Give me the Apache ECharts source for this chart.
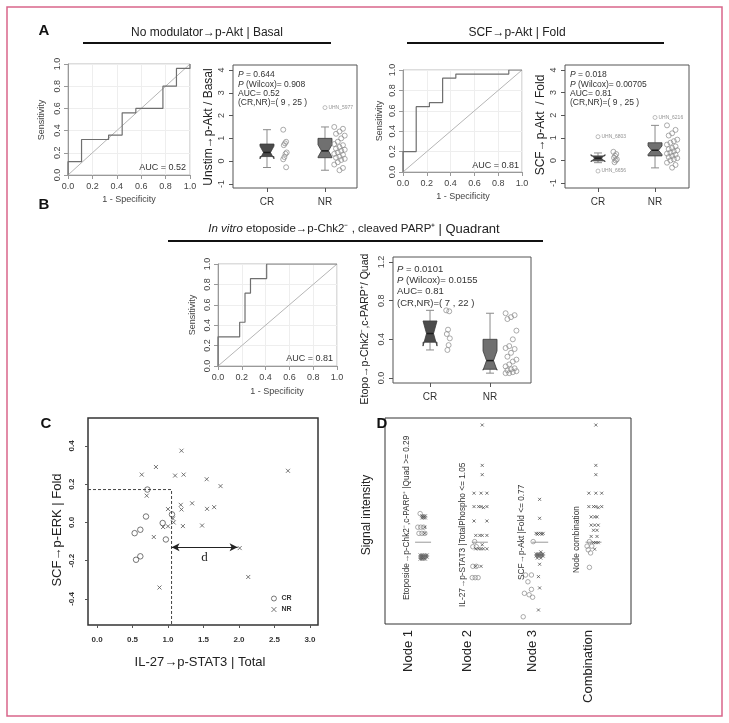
<!DOCTYPE html>
<html><head><meta charset="utf-8">
<script src="https://cdn.jsdelivr.net/npm/echarts@6/dist/echarts.min.js"></script>
<style>html,body{margin:0;padding:0;background:#fff}#c{width:729px;height:723px}</style>
</head><body><div id="c"></div>
<script>
const FONT = "'Liberation Sans', Arial, Helvetica, sans-serif";

// ---------- ROC curves: corner points (1 - specificity, sensitivity) ----------
const rocA1Fpr = [0, 0, 0.111, 0.333, 0.444, 0.556, 0.778, 0.889, 1];
const rocA1Tpr = [0, 0.12, 0.32, 0.36, 0.56, 0.60, 0.80, 0.96, 1];
const rocA2Fpr = [0, 0, 0.111, 0.222, 0.333, 0.444, 0.889, 1];
const rocA2Tpr = [0, 0.20, 0.64, 0.68, 0.92, 0.96, 1, 1];
const rocBFpr  = [0, 0, 0.182, 0.227, 0.273, 0.409, 1];
const rocBTpr  = [0, 0.286, 0.429, 0.714, 0.857, 1, 1];
const rocChance = [[0, 0], [1, 1]];
const aucA1 = '0.52', aucA2 = '0.81', aucB = '0.81';
const rocTicks = ['0.0', '0.2', '0.4', '0.6', '0.8', '1.0'];

// ---------- Box plots: [lower whisker, Q1, median, Q3, upper whisker] and notch [low, high] ----------
const boxA1CR = [-0.28, 0.20, 0.38, 0.75, 1.38], notchA1CR = [0.10, 0.66];
const boxA1NR = [-0.40, 0.15, 0.45, 1.00, 1.50], notchA1NR = [0.18, 0.72];
const boxA2CR = [-0.10, -0.02, 0.10, 0.20, 0.33], notchA2CR = [-0.06, 0.26];
const boxA2NR = [-0.33, 0.20, 0.45, 0.78, 1.55], notchA2NR = [0.26, 0.64];
const boxBCR  = [0.29, 0.37, 0.46, 0.59, 0.70], notchBCR = [0.33, 0.59];
const boxBNR  = [0.05, 0.09, 0.18, 0.40, 0.67], notchBNR = [0.08, 0.28];

// individual patient values next to the boxes
const ptsA1CR = [1.38, 0.85, 0.78, 0.70, 0.38, 0.32, 0.18, 0.08, -0.27];
const ptsA1NR = [1.50, 1.42, 1.30, 1.20, 1.12, 1.00, 0.85, 0.75, 0.70, 0.62, 0.55, 0.50, 0.45, 0.38, 0.32, 0.28, 0.20, 0.15, 0.10, 0.05, -0.05, -0.15, -0.30, -0.40];
const outA1 = [[2, 2.35, 'UHN_5977']];
const ptsA2CR = [0.38, 0.28, 0.20, 0.12, 0.05, 0.00, -0.08];
const ptsA2NR = [1.55, 1.35, 1.20, 1.10, 0.92, 0.85, 0.78, 0.70, 0.62, 0.55, 0.50, 0.45, 0.40, 0.35, 0.30, 0.25, 0.20, 0.15, 0.10, 0.05, 0.00, -0.10, -0.20, -0.32];
const outA2 = [[1, 1.05, 'UHN_6803'], [1, -0.47, 'UHN_6656'], [2, 1.90, 'UHN_6216']];
const ptsBCR = [0.70, 0.69, 0.50, 0.455, 0.41, 0.34, 0.29];
const ptsBNR = [0.67, 0.65, 0.63, 0.61, 0.49, 0.40, 0.33, 0.31, 0.30, 0.26, 0.22, 0.19, 0.17, 0.14, 0.12, 0.10, 0.09, 0.08, 0.07, 0.06, 0.05, 0.05];
const boxTicksA = [-1, 0, 1, 2, 3, 4];
const boxTicksB = [0, 0.4, 0.8, 1.2];
const groups = ['CR', 'NR'];

const statsA1 = ['0.644', '0.908', '0.52', '( 9 , 25 )'];
const statsA2 = ['0.018', '0.00705', '0.81', '( 9 , 25 )'];
const statsB  = ['0.0101', '0.0155', '0.81', '( 7 , 22 )'];

// ---------- Panel C scatter: [IL-27 -> p-STAT3 total, SCF -> p-ERK fold] ----------
const cCR = [[0.71, 0.172], [0.69, 0.031], [0.53, -0.056], [0.61, -0.038], [0.55, -0.195], [0.61, -0.177], [0.925, -0.003], [0.97, -0.089], [1.056, 0.042]];
const cNR = [[0.70, 0.14], [0.93, -0.024], [1.07, 0.02], [1.08, 0.0], [1.00, -0.02], [1.00, 0.07], [0.80, -0.076], [0.88, -0.34], [0.63, 0.25], [0.83, 0.29], [1.19, 0.375], [1.10, 0.245], [1.22, 0.25], [1.18, 0.092], [1.19, 0.068], [1.21, -0.019], [1.34, 0.10], [1.545, 0.226], [1.55, 0.071], [1.65, 0.08], [1.74, 0.19], [1.48, -0.016], [2.01, -0.134], [2.13, -0.285], [2.69, 0.27]];
const cCutX = 1.05, cCutY = 0.172;
const cArrow = [1.05, 1.98, -0.13];
const cXTicks = [0, 0.5, 1, 1.5, 2, 2.5, 3];
const cYTicks = [-0.4, -0.2, 0, 0.2, 0.4];

// ---------- Panel D strips: [position, signal] ----------
const d1CR = [[0.60, 5.36], [0.56, 4.7], [0.61, 4.7], [0.66, 4.7], [0.58, 4.4], [0.63, 4.4], [0.68, 4.4]];
const d1NR = [[0.63, 5.25], [0.66, 5.25], [0.69, 5.25], [0.63, 5.15], [0.66, 5.15], [0.69, 5.15], [0.68, 4.7], [0.68, 4.4], [0.60, 3.35], [0.63, 3.35], [0.66, 3.35], [0.69, 3.35], [0.72, 3.35], [0.60, 3.25], [0.63, 3.25], [0.66, 3.25], [0.69, 3.25], [0.72, 3.25], [0.60, 3.15], [0.63, 3.15], [0.66, 3.15], [0.69, 3.15]];
const d2CR = [[1.53, 4.0], [1.50, 3.75], [1.56, 3.75], [1.50, 2.8], [1.56, 2.8], [1.49, 2.25], [1.54, 2.25], [1.59, 2.25]];
const d2NR = [[1.66, 9.66], [1.66, 7.7], [1.66, 7.25], [1.52, 6.35], [1.64, 6.35], [1.74, 6.35], [1.52, 5.7], [1.60, 5.7], [1.64, 5.7], [1.68, 5.65], [1.74, 5.7], [1.52, 5.0], [1.74, 5.0], [1.55, 4.3], [1.62, 4.3], [1.66, 4.3], [1.74, 4.3], [1.66, 3.85], [1.55, 3.65], [1.60, 3.65], [1.64, 3.65], [1.68, 3.65], [1.74, 3.65], [1.55, 2.8], [1.64, 2.8]];
const d3CR = [[2.53, 4.0], [2.40, 2.38], [2.50, 2.38], [2.44, 2.05], [2.50, 1.68], [2.38, 1.49], [2.46, 1.42], [2.52, 1.3], [2.36, 0.35]];
const d3NR = [[2.64, 6.05], [2.64, 5.13], [2.58, 4.4], [2.62, 4.4], [2.66, 4.4], [2.70, 4.4], [2.60, 4.35], [2.68, 4.35], [2.66, 3.5], [2.58, 3.4], [2.61, 3.4], [2.64, 3.4], [2.67, 3.4], [2.70, 3.4], [2.58, 3.3], [2.61, 3.3], [2.64, 3.3], [2.67, 3.3], [2.70, 3.3], [2.60, 3.2], [2.66, 3.2], [2.64, 2.9], [2.62, 2.3], [2.64, 1.75], [2.62, 0.68]];
const d4CR = [[3.49, 4.0], [3.45, 3.78], [3.53, 3.78], [3.47, 3.6], [3.51, 3.45], [3.49, 2.75]];
const d4NR = [[3.60, 9.66], [3.60, 7.7], [3.60, 7.25], [3.48, 6.35], [3.60, 6.35], [3.70, 6.35], [3.48, 5.7], [3.56, 5.7], [3.60, 5.7], [3.64, 5.65], [3.70, 5.7], [3.52, 5.2], [3.58, 5.2], [3.62, 5.2], [3.52, 4.8], [3.58, 4.8], [3.64, 4.8], [3.56, 4.55], [3.62, 4.55], [3.52, 4.25], [3.62, 4.25], [3.56, 3.95], [3.60, 3.95], [3.64, 3.95], [3.58, 3.63]];
const dCut = [[0.65, 3.97], [1.62, 3.97], [2.65, 3.97], [3.56, 3.97]];
const dNodes = ['Node 1', 'Node 2', 'Node 3', 'Combination'];
const dRules = ['Etoposide\u2192p-Chk2\u207B,c-PARP\u207A |Quad >= 0.29', 'IL-27\u2192p-STAT3 |TotalPhospho <= 1.05', 'SCF\u2192p-Akt |Fold <= 0.77', 'Node combination'];

// ================= layout =================
const grids = [
  {left: 68, top: 64, width: 122, height: 111, show: true, borderColor: '#bbb', borderWidth: 1},
  {left: 233, top: 65, width: 124, height: 123, show: true, borderColor: '#555', borderWidth: 1},
  {left: 403, top: 70, width: 119, height: 102, show: true, borderColor: '#bbb', borderWidth: 1},
  {left: 565, top: 65, width: 124, height: 123, show: true, borderColor: '#555', borderWidth: 1},
  {left: 218, top: 264, width: 119, height: 102, show: true, borderColor: '#bbb', borderWidth: 1},
  {left: 393, top: 257, width: 138, height: 126, show: true, borderColor: '#555', borderWidth: 1},
  {left: 88, top: 418, width: 230, height: 207, show: true, borderColor: '#333', borderWidth: 1.5},
  {left: 385, top: 418, width: 246, height: 206, show: true, borderColor: '#333', borderWidth: 1}
];

function rocAxis(g, vertical) {
  return {
    type: 'value', gridIndex: g, min: 0, max: 1, interval: 0.2,
    axisLine: {show: true, onZero: false, lineStyle: {color: '#999'}},
    axisTick: {show: true, length: 4, lineStyle: {color: '#999'}},
    axisLabel: {fontSize: 9, color: '#444', fontFamily: FONT, margin: vertical ? 6 : 7,
      rotate: vertical ? 90 : 0, formatter: v => rocTicks[Math.round(v * 5)]},
    splitLine: {show: true, lineStyle: {color: '#eee', width: 1}}
  };
}
function boxX(g, min, max) {
  return {
    type: 'value', gridIndex: g, min: min, max: max,
    axisLine: {show: false, onZero: false},
    axisTick: {show: true, length: 4, customValues: [1, 2], lineStyle: {color: '#555'}},
    axisLabel: {customValues: [1, 2], formatter: v => groups[Math.round(v) - 1], fontSize: 10, color: '#333', fontFamily: FONT, margin: 9},
    splitLine: {show: false}
  };
}
function boxY(g, min, max, ticks, dec) {
  return {
    type: 'value', gridIndex: g, min: min, max: max,
    axisLine: {show: false, onZero: false},
    axisTick: {show: true, length: 4, customValues: ticks, lineStyle: {color: '#555'}},
    axisLabel: {customValues: ticks, rotate: 90, formatter: v => v.toFixed(dec), fontSize: 9, color: '#444', fontFamily: FONT, margin: 7},
    splitLine: {show: false}
  };
}

const xAxes = [
  rocAxis(0, false), boxX(1, 0.414, 2.552), rocAxis(2, false), boxX(3, 0.421, 2.596),
  rocAxis(4, false), boxX(5, 0.383, 2.683),
  {type: 'value', gridIndex: 6, min: -0.127, max: 3.113,
    axisLine: {show: false, onZero: false},
    axisTick: {show: true, length: 3, customValues: cXTicks, lineStyle: {color: '#555'}},
    axisLabel: {customValues: cXTicks, formatter: v => v.toFixed(1), fontSize: 8, fontWeight: 'bold', color: '#333', fontFamily: FONT, margin: 11},
    splitLine: {show: false}},
  {type: 'value', gridIndex: 7, min: 0, max: 4.2, show: false, axisLine: {onZero: false}}
];
const yAxes = [
  rocAxis(0, true), boxY(1, -1.18, 4.22, boxTicksA, 0), rocAxis(2, true), boxY(3, -1.22, 4.22, boxTicksA, 0),
  rocAxis(4, true), boxY(5, -0.052, 1.252, boxTicksB, 1),
  {type: 'value', gridIndex: 6, min: -0.536, max: 0.546,
    axisLine: {show: false, onZero: false},
    axisTick: {show: true, length: 3, customValues: cYTicks, lineStyle: {color: '#555'}},
    axisLabel: {customValues: cYTicks, rotate: 90, formatter: v => v.toFixed(1), fontSize: 8, fontWeight: 'bold', color: '#333', fontFamily: FONT, margin: 12},
    splitLine: {show: false}},
  {type: 'value', gridIndex: 7, min: 0, max: 10, show: false, axisLine: {onZero: false}}
];

// ================= series helpers =================
function rocSeries(g, fpr, tpr) {
  return [
    {type: 'line', xAxisIndex: g, yAxisIndex: g, data: rocChance, symbol: 'none', silent: true,
      lineStyle: {color: '#b5b5b5', width: 1}},
    {type: 'line', xAxisIndex: g, yAxisIndex: g, data: fpr.map((f, i) => [f, tpr[i]]), step: 'end', symbol: 'none', silent: true,
      lineStyle: {color: '#6f6f6f', width: 1.2}}
  ];
}
function notchBox(params, api) {
  const x = api.value(0);
  const lo = api.value(1), q1 = api.value(2), md = api.value(3), q3 = api.value(4), hi = api.value(5);
  const nl = api.value(6), nh = api.value(7);
  const cx = api.coord([x, md])[0];
  const y = v => api.coord([x, v])[1];
  const hw = 7, nw = 3.5, sw = 4;
  const fill = params.dataIndex === 0 ? '#4b4b4b' : '#707070';
  const wl = {stroke: '#8a8a8a', lineWidth: 1};
  return {type: 'group', children: [
    {type: 'line', shape: {x1: cx, y1: y(hi), x2: cx, y2: y(q3)}, style: wl},
    {type: 'line', shape: {x1: cx, y1: y(lo), x2: cx, y2: y(q1)}, style: wl},
    {type: 'line', shape: {x1: cx - sw, y1: y(hi), x2: cx + sw, y2: y(hi)}, style: wl},
    {type: 'line', shape: {x1: cx - sw, y1: y(lo), x2: cx + sw, y2: y(lo)}, style: wl},
    {type: 'polygon', shape: {points: [[cx - hw, y(q1)], [cx + hw, y(q1)], [cx + hw, y(nl)], [cx + nw, y(md)], [cx + hw, y(nh)],
      [cx + hw, y(q3)], [cx - hw, y(q3)], [cx - hw, y(nh)], [cx - nw, y(md)], [cx - hw, y(nl)]]},
      style: {fill: fill, stroke: '#3a3a3a', lineWidth: 0.8}},
    {type: 'line', shape: {x1: cx - nw, y1: y(md), x2: cx + nw, y2: y(md)}, style: {stroke: '#1e1e1e', lineWidth: 1.5}}
  ]};
}
function jitter(vals, base, spread) {
  return vals.map((v, i) => [base + (((i * 5) % 7) - 3) * spread, v]);
}
const openCircle = {color: 'rgba(0,0,0,0)', borderColor: '#8a8a8a', borderWidth: 0.9};
function boxSeries(g, cr, nr, ncr, nnr, pcr, pnr, out, crBase, nrBase) {
  const s = [
    {type: 'custom', xAxisIndex: g, yAxisIndex: g, renderItem: notchBox, silent: true, clip: false,
      data: [[1].concat(cr, ncr), [2].concat(nr, nnr)]},
    {type: 'scatter', xAxisIndex: g, yAxisIndex: g, data: jitter(pcr, crBase, 0.01), symbol: 'circle', symbolSize: 5, silent: true, itemStyle: openCircle, clip: false},
    {type: 'scatter', xAxisIndex: g, yAxisIndex: g, data: jitter(pnr, nrBase, 0.03), symbol: 'circle', symbolSize: 5, silent: true, itemStyle: openCircle, clip: false}
  ];
  if (out) s.push({type: 'scatter', xAxisIndex: g, yAxisIndex: g, data: out, symbol: 'circle', symbolSize: 4, silent: true,
    itemStyle: {color: 'rgba(0,0,0,0)', borderColor: '#999', borderWidth: 0.8},
    label: {show: true, position: 'right', distance: 1, formatter: p => p.data[2], fontSize: 5, color: '#777', fontFamily: FONT}});
  return s;
}
const crossPath = 'path://M0,0L10,10M10,0L0,10';

const series = [].concat(
  rocSeries(0, rocA1Fpr, rocA1Tpr),
  boxSeries(1, boxA1CR, boxA1NR, notchA1CR, notchA1NR, ptsA1CR, ptsA1NR, outA1, 1.31, 2.25),
  rocSeries(2, rocA2Fpr, rocA2Tpr),
  boxSeries(3, boxA2CR, boxA2NR, notchA2CR, notchA2NR, ptsA2CR, ptsA2NR, outA2, 1.30, 2.30),
  rocSeries(4, rocBFpr, rocBTpr),
  boxSeries(5, boxBCR, boxBNR, notchBCR, notchBNR, ptsBCR, ptsBNR, null, 1.30, 2.35),
  [
    {type: 'line', xAxisIndex: 6, yAxisIndex: 6, symbol: 'none', silent: true,
      data: [[-0.127, cCutY], [cCutX, cCutY], [cCutX, -0.536]],
      lineStyle: {color: '#444', width: 1, type: [3, 2]},
      markLine: {silent: true, symbol: ['arrow', 'arrow'], symbolSize: [6, 8], animation: false,
        lineStyle: {type: 'solid', color: '#222', width: 1.2},
        label: {show: true, position: 'insideMiddleBottom', formatter: 'd', fontFamily: "'Liberation Serif', serif", fontSize: 13, color: '#222', distance: 4},
        data: [[{coord: [cArrow[0], cArrow[2]]}, {coord: [cArrow[1], cArrow[2]]}]]}},
    {name: 'CR', type: 'scatter', xAxisIndex: 6, yAxisIndex: 6, data: cCR, symbol: 'circle', symbolSize: 5.5, silent: true,
      itemStyle: {color: 'rgba(0,0,0,0)', borderColor: '#555', borderWidth: 1}},
    {name: 'NR', type: 'scatter', xAxisIndex: 6, yAxisIndex: 6, data: cNR, symbol: crossPath, symbolSize: 4, silent: true,
      itemStyle: {color: 'rgba(0,0,0,0)', borderColor: '#555', borderWidth: 1}},
    {type: 'custom', xAxisIndex: 7, yAxisIndex: 7, silent: true, clip: false, data: dCut,
      renderItem: (params, api) => {
        const p = api.coord([api.value(0), api.value(1)]);
        return {type: 'line', shape: {x1: p[0] - 8, y1: p[1], x2: p[0] + 8, y2: p[1]}, style: {stroke: '#999', lineWidth: 1}};
      }},
    {type: 'scatter', xAxisIndex: 7, yAxisIndex: 7, data: [].concat(d1CR, d2CR, d3CR, d4CR), symbol: 'circle', symbolSize: 4.5, silent: true,
      itemStyle: {color: 'rgba(0,0,0,0)', borderColor: '#8a8a8a', borderWidth: 0.9}},
    {type: 'scatter', xAxisIndex: 7, yAxisIndex: 7, data: [].concat(d1NR, d2NR, d3NR, d4NR), symbol: crossPath, symbolSize: 3, silent: true,
      itemStyle: {color: 'rgba(0,0,0,0)', borderColor: '#444', borderWidth: 0.9}}
  ]
);

// ================= text & decoration =================
const G = [];
G.push({type: 'rect', shape: {x: 7, y: 7, width: 715, height: 709}, style: {fill: 'none', stroke: '#d9668a', lineWidth: 1.5}, silent: true});
function txt(x, y, text, size, opt) {
  opt = opt || {};
  G.push({type: 'text', x: x, y: y, rotation: opt.rot ? Math.PI / 2 : 0, silent: true, z: 10,
    style: {text: text, fontSize: size, fontFamily: opt.family || FONT, fontWeight: opt.bold ? 'bold' : 'normal',
      fontStyle: opt.italic ? 'italic' : 'normal', fill: opt.color || '#222', align: opt.align || 'center',
      verticalAlign: opt.va || 'middle', rich: opt.rich}});
}
function hline(x1, x2, y, w) {
  G.push({type: 'line', shape: {x1: x1, y1: y, x2: x2, y2: y}, style: {stroke: '#111', lineWidth: w}, silent: true});
}
// panel letters
txt(44, 31, 'A', 15, {bold: true, color: '#111'});
txt(44, 205, 'B', 15, {bold: true, color: '#111'});
txt(46, 424, 'C', 15, {bold: true, color: '#111'});
txt(382, 424, 'D', 15, {bold: true, color: '#111'});
// headers
txt(207, 33, 'No modulator\u2192p-Akt | Basal', 12);
hline(83, 331, 43, 2);
txt(517, 33, 'SCF\u2192p-Akt | Fold', 12);
hline(407, 664, 43, 2);
txt(354, 229, '{it|In vitro} etoposide\u2192p-Chk2\u207B , cleaved PARP\u207A {big|| Quadrant}', 11.5,
  {rich: {it: {fontStyle: 'italic', fontSize: 11.5, fontFamily: FONT, fill: '#222'}, big: {fontSize: 13, fontFamily: FONT, fill: '#222'}}});
hline(168, 543, 241, 2);
// ROC axis titles and AUC
txt(42, 120, 'Sensitivity', 9, {rot: true, color: '#444'});
txt(129, 200, '1 - Specificity', 9, {color: '#444'});
txt(186, 168, 'AUC = ' + aucA1, 9, {align: 'right', color: '#333'});
txt(380, 121, 'Sensitivity', 9, {rot: true, color: '#444'});
txt(463, 197, '1 - Specificity', 9, {color: '#444'});
txt(519, 166, 'AUC = ' + aucA2, 9, {align: 'right', color: '#333'});
txt(193, 315, 'Sensitivity', 9, {rot: true, color: '#444'});
txt(277, 392, '1 - Specificity', 9, {color: '#444'});
txt(333, 359, 'AUC = ' + aucB, 9, {align: 'right', color: '#333'});
// box titles
txt(209, 127, 'Unstim\u2192p-Akt / Basal', 12, {rot: true});
txt(541, 125, 'SCF\u2192p-Akt  / Fold', 12, {rot: true});
txt(365, 329, 'Etopo\u2192p-Chk2\u207B,c-PARP\u207A/ Quad', 10.5, {rot: true});
// box stats
function stats(x, y0, dy, size, s) {
  const rich = {i: {fontStyle: 'italic', fontSize: size, fontFamily: FONT, fill: '#333'}};
  const lines = ['{i|P} = ' + s[0], '{i|P} (Wilcox)= ' + s[1], 'AUC= ' + s[2], '(CR,NR)=' + s[3]];
  lines.forEach((l, k) => txt(x, y0 + k * dy, l, size, {align: 'left', color: '#333', rich: rich}));
}
stats(238, 75, 9.3, 8.5, statsA1);
stats(570, 75, 9.3, 8.5, statsA2);
stats(397, 269, 11.3, 9.5, statsB);
// panel C titles
txt(57, 530, 'SCF\u2192p-ERK | Fold', 13, {rot: true});
txt(200, 662, 'IL-27\u2192p-STAT3 | Total', 13);
// panel D titles
txt(367, 515, 'Signal intensity', 12, {rot: true});
const nodeX = [408, 467, 532, 588];
dNodes.forEach((n, k) => txt(nodeX[k], 630, n, 13, {rot: true, align: 'right'}));
const ruleX = [407, 463, 522, 577], ruleY = [600, 607, 580, 573];
dRules.forEach((r, k) => txt(ruleX[k], ruleY[k], r, 8.3, {rot: true, align: 'left', color: '#333'}));

const legendItem = {color: 'rgba(0,0,0,0)', borderColor: '#444', borderWidth: 0.9};
const chart = echarts.init(document.getElementById('c'), null, {renderer: 'canvas'});
chart.setOption({
  animation: false,
  backgroundColor: '#fff',
  grid: grids,
  xAxis: xAxes,
  yAxis: yAxes,
  legend: {data: [{name: 'CR', icon: 'circle', itemStyle: legendItem}, {name: 'NR', icon: crossPath, itemStyle: legendItem}],
    orient: 'vertical', left: 271, top: 595, itemWidth: 5, itemHeight: 5, itemGap: 4, padding: 0,
    selectedMode: false, textStyle: {fontSize: 7, fontWeight: 'bold', color: '#333', fontFamily: FONT}},
  series: series,
  graphic: {elements: G}
});
</script>
</body></html>
